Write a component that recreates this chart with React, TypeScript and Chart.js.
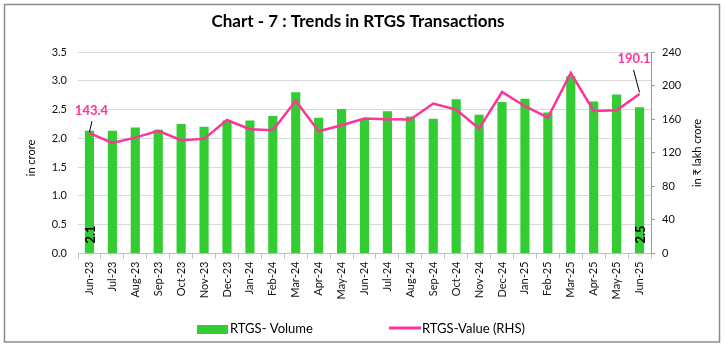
import React, { useEffect, useRef } from "react";
import { Chart, registerables } from "chart.js";

Chart.register(...registerables);

const months = [
  "Jun-23", "Jul-23", "Aug-23", "Sep-23", "Oct-23", "Nov-23", "Dec-23",
  "Jan-24", "Feb-24", "Mar-24", "Apr-24", "May-24", "Jun-24", "Jul-24",
  "Aug-24", "Sep-24", "Oct-24", "Nov-24", "Dec-24", "Jan-25", "Feb-25",
  "Mar-25", "Apr-25", "May-25", "Jun-25",
];

const volumeCrore = [
  2.13, 2.13, 2.19, 2.15, 2.25, 2.2, 2.31, 2.31, 2.39, 2.8, 2.36, 2.51,
  2.33, 2.47, 2.38, 2.34, 2.68, 2.41, 2.63, 2.69, 2.45, 3.08, 2.64, 2.76, 2.54,
];

const valueLakhCrore = [
  143.4, 131.7, 138, 146, 135, 136.5, 159, 148, 146.8, 182, 145.6, 152.7,
  160.7, 160, 159.5, 178.6, 171.4, 148.8, 192.4, 175.4, 161.9, 215, 169.8,
  170.6, 190.1,
];

const leftTicks = [0, 0.5, 1, 1.5, 2, 2.5, 3, 3.5];
const rightTicks = [0, 40, 80, 120, 160, 200, 240];

const GREEN = "#33CC33";
const PINK = "#FF3399";
const FONT = "Lato, 'Liberation Sans', sans-serif";

const decorPlugin = {
  id: "decor",
  afterDraw(chart: any) {
    const ctx = chart.ctx;
    const xs = chart.scales.x;
    const y = chart.scales.y;
    const y1 = chart.scales.y1;
    ctx.save();

    // outer border
    ctx.strokeStyle = "#8c8c8c";
    ctx.lineWidth = 1.5;
    ctx.strokeRect(4.5, 4.5, 715, 337.5);

    // title
    ctx.fillStyle = "#000";
    ctx.font = `bold 17px ${FONT}`;
    ctx.textAlign = "center";
    ctx.textBaseline = "middle";
    ctx.fillText("Chart - 7 : Trends in RTGS Transactions", 358, 22);

    // axis titles
    ctx.font = `11px ${FONT}`;
    ctx.save();
    ctx.translate(31, 158);
    ctx.rotate(-Math.PI / 2);
    ctx.fillText("in crore", 0, 0);
    ctx.restore();
    ctx.save();
    ctx.translate(697, 153);
    ctx.rotate(-Math.PI / 2);
    ctx.fillText("in \u20B9 lakh crore", 0, 0);
    ctx.restore();

    // legend
    ctx.fillStyle = GREEN;
    ctx.fillRect(197, 325, 31, 9);
    ctx.strokeStyle = PINK;
    ctx.lineWidth = 3;
    ctx.beginPath();
    ctx.moveTo(389, 328);
    ctx.lineTo(421, 328);
    ctx.stroke();
    ctx.fillStyle = "#000";
    ctx.font = `13px ${FONT}`;
    ctx.textAlign = "left";
    ctx.fillText("RTGS- Volume", 230, 329);
    ctx.fillText("RTGS-Value (RHS)", 422, 329);

    // data labels
    const first = 0;
    const last = months.length - 1;
    const p0x = xs.getPixelForValue(first);
    const p0y = y1.getPixelForValue(valueLakhCrore[first]);
    const pLx = xs.getPixelForValue(last);
    const pLy = y1.getPixelForValue(valueLakhCrore[last]);

    ctx.strokeStyle = "#000";
    ctx.lineWidth = 1;
    ctx.beginPath();
    ctx.moveTo(p0x + 2.5, p0y - 12);
    ctx.lineTo(p0x, p0y - 1);
    ctx.moveTo(pLx - 6, pLy - 24);
    ctx.lineTo(pLx, pLy - 1.5);
    ctx.stroke();

    ctx.fillStyle = PINK;
    ctx.font = `bold 13px ${FONT}`;
    ctx.textAlign = "center";
    ctx.fillText(valueLakhCrore[first].toFixed(1), p0x + 2, p0y - 22.5);
    ctx.fillText(valueLakhCrore[last].toFixed(1), pLx - 5.5, pLy - 35.5);

    // rotated bar labels
    ctx.fillStyle = "#000";
    ctx.font = `bold 13px ${FONT}`;
    const base = y.getPixelForValue(0);
    [first, last].forEach((i) => {
      ctx.save();
      ctx.translate(xs.getPixelForValue(i) + 1, base - 19);
      ctx.rotate(-Math.PI / 2);
      ctx.fillText(volumeCrore[i].toFixed(1), 0, 0);
      ctx.restore();
    });

    ctx.restore();
  },
};

export default function App() {
  const ref = useRef<HTMLCanvasElement | null>(null);

  useEffect(() => {
    if (!ref.current) return;
    const chart = new Chart(ref.current, {
      type: "bar",
      data: {
        labels: months,
        datasets: [
          {
            type: "line",
            label: "RTGS-Value (RHS)",
            data: valueLakhCrore,
            yAxisID: "y1",
            borderColor: PINK,
            backgroundColor: PINK,
            borderWidth: 2.5,
            pointRadius: 0,
            tension: 0,
            order: 0,
          } as any,
          {
            type: "bar",
            label: "RTGS- Volume",
            data: volumeCrore,
            yAxisID: "y",
            backgroundColor: GREEN,
            borderWidth: 0,
            barPercentage: 0.4,
            categoryPercentage: 1,
            order: 1,
          },
        ],
      },
      options: {
        responsive: false,
        animation: false,
        layout: { padding: { top: 52, left: 0, right: 0, bottom: 0 } },
        plugins: {
          legend: { display: false },
          title: { display: false },
          tooltip: { enabled: false },
        },
        scales: {
          x: {
            offset: true,
            grid: {
              offset: true,
              drawOnChartArea: false,
              drawTicks: true,
              tickLength: 5,
              color: "#bfbfbf",
            },
            border: { display: true, color: "#bfbfbf" },
            ticks: {
              minRotation: 90,
              maxRotation: 90,
              autoSkip: false,
              padding: 3,
              color: "#111",
              font: { family: FONT, size: 11 },
            },
            afterFit(scale: any) {
              scale.height = 96.5;
            },
          },
          y: {
            position: "left",
            min: 0,
            max: 3.5,
            afterBuildTicks(scale: any) {
              scale.ticks = leftTicks.map((v) => ({ value: v }));
            },
            grid: { color: "#d9d9d9", drawTicks: false },
            border: { display: false },
            ticks: {
              padding: 11,
              color: "#111",
              font: { family: FONT, size: 11 },
              callback: (v: any) => Number(v).toFixed(1),
            },
            afterFit(scale: any) {
              scale.width = 78;
            },
          },
          y1: {
            position: "right",
            min: 0,
            max: 240,
            afterBuildTicks(scale: any) {
              scale.ticks = rightTicks.map((v) => ({ value: v }));
            },
            grid: {
              drawOnChartArea: false,
              drawTicks: true,
              tickLength: 4,
              color: "#999",
            },
            border: { display: true, color: "#999" },
            ticks: {
              padding: 7,
              color: "#111",
              font: { family: FONT, size: 11 },
            },
            afterFit(scale: any) {
              scale.width = 75;
            },
          },
        },
      },
      plugins: [decorPlugin],
    });
    return () => chart.destroy();
  }, []);

  return (
    <div style={{ position: "fixed", left: 0, top: 0, width: 726, height: 350, background: "#fff" }}>
      <canvas ref={ref} width={726} height={350} style={{ width: 726, height: 350, display: "block" }} />
    </div>
  );
}
